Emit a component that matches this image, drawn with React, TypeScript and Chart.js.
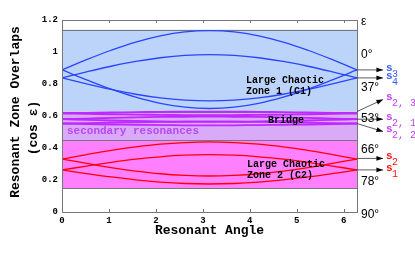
import React, { useEffect, useRef } from "react";
import { Chart, registerables } from "chart.js";

Chart.register(...registerables);

const TWO_PI = 6.283185;
// sample angles (k*pi/6)
const angles = [0, 0.5236, 1.0472, 1.5708, 2.0944, 2.618, 3.1416, 3.6652, 4.1888, 4.7124, 5.236, 5.7596, 6.2832];

// zone bands (cos eps)
const bandC1 = [0.628, 1.14];
const bandBridge = [0.448, 0.628];
const bandC2 = [0.148, 0.448];

// large resonance separatrices
const s3Upper = [0.888, 0.952, 1.011, 1.062, 1.101, 1.126, 1.134, 1.126, 1.101, 1.062, 1.011, 0.952, 0.888];
const s3Lower = [0.888, 0.826, 0.768, 0.718, 0.679, 0.655, 0.647, 0.655, 0.679, 0.718, 0.768, 0.826, 0.888];
const s4Upper = [0.838, 0.876, 0.911, 0.941, 0.964, 0.979, 0.984, 0.979, 0.964, 0.941, 0.911, 0.876, 0.838];
const s4Lower = [0.838, 0.801, 0.766, 0.736, 0.713, 0.699, 0.694, 0.699, 0.713, 0.736, 0.766, 0.801, 0.838];
const s2Upper = [0.331, 0.359, 0.385, 0.407, 0.424, 0.434, 0.438, 0.434, 0.424, 0.407, 0.385, 0.359, 0.331];
const s2Lower = [0.331, 0.304, 0.278, 0.256, 0.239, 0.229, 0.225, 0.229, 0.239, 0.256, 0.278, 0.304, 0.331];
const s1Upper = [0.263, 0.287, 0.310, 0.330, 0.345, 0.355, 0.358, 0.355, 0.345, 0.330, 0.310, 0.287, 0.263];
const s1Lower = [0.263, 0.240, 0.219, 0.201, 0.187, 0.178, 0.175, 0.178, 0.187, 0.201, 0.219, 0.240, 0.263];
// secondary resonances
const s23Upper = [0.617, 0.620, 0.622, 0.624, 0.626, 0.627, 0.627, 0.627, 0.626, 0.624, 0.622, 0.620, 0.617];
const s23Lower = [0.617, 0.614, 0.611, 0.609, 0.607, 0.606, 0.606, 0.606, 0.607, 0.609, 0.611, 0.614, 0.617];
const s21Upper = [0.580, 0.584, 0.588, 0.591, 0.594, 0.595, 0.596, 0.595, 0.594, 0.591, 0.588, 0.584, 0.580];
const s21Lower = [0.580, 0.576, 0.572, 0.569, 0.566, 0.565, 0.564, 0.565, 0.566, 0.569, 0.572, 0.576, 0.580];
const s22Upper = [0.553, 0.556, 0.559, 0.561, 0.563, 0.564, 0.565, 0.564, 0.563, 0.561, 0.559, 0.556, 0.553];
const s22Lower = [0.553, 0.550, 0.547, 0.545, 0.543, 0.542, 0.541, 0.542, 0.543, 0.545, 0.547, 0.550, 0.553];

const xTicks = [0, 1, 2, 3, 4, 5, 6];
const yTicks = [0, 0.2, 0.4, 0.6, 0.8, 1, 1.2];
const epsDegrees = [0, 37, 53, 66, 78, 90];

// resonance labels at right: [centre value, label main, subscript, colour, arrow end dy]
const resLabels: [number, string, string, string, number][] = [
  [0.888, "s", "3", "#3a5cff", 0],
  [0.838, "s", "4", "#3a5cff", 0],
  [0.628, "s", "2, 3", "#c040f0", -12],
  [0.58, "s", "2, 1", "#c040f0", 0],
  [0.553, "s", "2, 2", "#c040f0", 8],
  [0.335, "s", "2", "#ff1010", 0],
  [0.263, "s", "1", "#ff1010", 0],
];

const BLUE = "#2a44ff";
const RED = "#ff0000";
const PURPLE = "#c028ff";
const MONO = "'Liberation Mono', 'DejaVu Sans Mono', monospace";
const SANS = "'Liberation Sans', Arial, sans-serif";

function series(vals: number[]) {
  return vals.map((v, i) => ({ x: angles[i], y: v }));
}

const overlay = {
  id: "overlay",
  beforeDatasetsDraw(chart: any) {
    const { ctx, chartArea: a, scales } = chart;
    const ys = scales.y;
    ctx.save();
    const bands: [number[], string][] = [
      [bandC1, "#bcd4fa"],
      [bandBridge, "#d9aaf8"],
      [bandC2, "#ff80ff"],
    ];
    for (const [b, c] of bands) {
      const top = ys.getPixelForValue(b[1]);
      const bot = ys.getPixelForValue(b[0]);
      ctx.fillStyle = c;
      ctx.fillRect(a.left, top, a.right - a.left, bot - top);
    }
    ctx.strokeStyle = "#777";
    ctx.lineWidth = 1;
    for (const v of [bandC1[1], bandC1[0], bandBridge[0], bandC2[0]]) {
      const y = Math.round(ys.getPixelForValue(v)) + 0.5;
      ctx.beginPath();
      ctx.moveTo(a.left, y);
      ctx.lineTo(a.right, y);
      ctx.stroke();
    }
    ctx.restore();
  },
  afterDatasetsDraw(chart: any) {
    const { ctx, chartArea: a, scales } = chart;
    const xs = scales.x;
    const ys = scales.y;
    ctx.save();
    // frame
    ctx.strokeStyle = "#777";
    ctx.lineWidth = 1;
    ctx.strokeRect(Math.round(a.left) + 0.5, Math.round(a.top) + 0.5, Math.round(a.right - a.left), Math.round(a.bottom - a.top));
    // inward ticks top & bottom
    for (const t of xTicks) {
      const x = Math.round(xs.getPixelForValue(t)) + 0.5;
      ctx.beginPath();
      ctx.moveTo(x, a.top);
      ctx.lineTo(x, a.top + 3);
      ctx.moveTo(x, a.bottom);
      ctx.lineTo(x, a.bottom - 3);
      ctx.stroke();
    }
    // inner texts
    ctx.fillStyle = "#000";
    ctx.textBaseline = "middle";
    ctx.textAlign = "left";
    ctx.font = `bold 10px ${MONO}`;
    ctx.fillText("Large Chaotic", 246, 80);
    ctx.fillText("Zone 1 (C1)", 246, 91);
    ctx.fillText("Large Chaotic", 247, 164);
    ctx.fillText("Zone 2 (C2)", 247, 175);
    ctx.textAlign = "center";
    ctx.fillText("Bridge", 286, 120);
    ctx.textAlign = "left";
    ctx.fillStyle = "#b848f0";
    ctx.font = `bold 11px ${MONO}`;
    ctx.fillText("secondary resonances", 67, 131);

    // axis titles
    ctx.fillStyle = "#000";
    ctx.font = `bold 13px ${MONO}`;
    ctx.textAlign = "center";
    ctx.fillText("Resonant Angle", (a.left + a.right) / 2, 231);
    ctx.save();
    ctx.translate(16, 112);
    ctx.rotate(-Math.PI / 2);
    ctx.fillText("Resonant Zone Overlaps", 0, 0);
    ctx.restore();
    ctx.save();
    ctx.translate(34, 128);
    ctx.rotate(-Math.PI / 2);
    ctx.fillText("(cos \u03b5)", 0, 0);
    ctx.restore();

    // right side epsilon labels
    ctx.font = `12px ${SANS}`;
    ctx.textAlign = "left";
    ctx.fillText("\u03b5", 361, ys.getPixelForValue(1.2) + 2);
    for (const d of epsDegrees) {
      const y = ys.getPixelForValue(Math.cos((d * Math.PI) / 180)) + 3;
      ctx.fillText(d + "\u00b0", 361, y);
    }

    // arrows and resonance labels
    for (const [v, main, sub, col, dy] of resLabels) {
      const y0 = ys.getPixelForValue(v);
      const x0 = a.right;
      const x1 = a.right + 26;
      const y1 = y0 + dy;
      ctx.strokeStyle = "#333";
      ctx.fillStyle = "#000";
      ctx.lineWidth = 0.8;
      ctx.beginPath();
      ctx.moveTo(x0, y0);
      ctx.lineTo(x1, y1);
      ctx.stroke();
      const ang = Math.atan2(y1 - y0, x1 - x0);
      ctx.beginPath();
      ctx.moveTo(x1, y1);
      ctx.lineTo(x1 - 7 * Math.cos(ang - 0.35), y1 - 7 * Math.sin(ang - 0.35));
      ctx.lineTo(x1 - 7 * Math.cos(ang + 0.35), y1 - 7 * Math.sin(ang + 0.35));
      ctx.closePath();
      ctx.fill();
      ctx.fillStyle = col;
      ctx.font = `bold 11px ${MONO}`;
      ctx.textAlign = "left";
      ctx.fillText(main, x1 + 3, y1 - 2);
      ctx.font = `10px ${MONO}`;
      ctx.fillText(sub, x1 + 9, y1 + 4);
    }
    ctx.restore();
  },
};

export default function App() {
  const ref = useRef<HTMLCanvasElement | null>(null);
  useEffect(() => {
    if (!ref.current) return;
    const mk = (vals: number[], color: string, w: number) => ({
      data: series(vals),
      borderColor: color,
      borderWidth: w,
      pointRadius: 0,
      fill: false,
      tension: 0.4,
    });
    const chart = new Chart(ref.current, {
      type: "line",
      data: {
        datasets: [
          mk(s23Upper, PURPLE, 1.8),
          mk(s23Lower, PURPLE, 1.8),
          mk(s21Upper, PURPLE, 1.8),
          mk(s21Lower, PURPLE, 1.8),
          mk(s22Upper, PURPLE, 1.8),
          mk(s22Lower, PURPLE, 1.8),
          mk(s3Upper, BLUE, 1.3),
          mk(s3Lower, BLUE, 1.3),
          mk(s4Upper, BLUE, 1.3),
          mk(s4Lower, BLUE, 1.3),
          mk(s2Upper, RED, 1.3),
          mk(s2Lower, RED, 1.3),
          mk(s1Upper, RED, 1.3),
          mk(s1Lower, RED, 1.3),
        ],
      },
      options: {
        animation: false,
        responsive: false,
        maintainAspectRatio: false,
        layout: { padding: { left: 0, right: 58, top: 20, bottom: 0 } },
        plugins: { legend: { display: false }, tooltip: { enabled: false } },
        scales: {
          x: {
            type: "linear",
            min: 0,
            max: TWO_PI,
            grid: { display: false, drawTicks: false },
            border: { display: false },
            afterBuildTicks: (s: any) => {
              s.ticks = xTicks.map((v) => ({ value: v }));
            },
            afterFit: (s: any) => {
              s.height = 51;
            },
            ticks: {
              color: "#000",
              padding: 3,
              maxRotation: 0,
              callback: (v: any) => String(v),
              font: { family: MONO, size: 9, weight: "bold" },
            },
          },
          y: {
            type: "linear",
            min: 0,
            max: 1.2,
            grid: { display: false, drawTicks: false },
            border: { display: false },
            afterBuildTicks: (s: any) => {
              s.ticks = yTicks.map((v) => ({ value: v }));
            },
            afterFit: (s: any) => {
              s.width = 62;
            },
            ticks: {
              color: "#000",
              padding: 4,
              callback: (v: any) => String(v),
              font: { family: MONO, size: 9, weight: "bold" },
            },
          },
        },
      },
      plugins: [overlay],
    } as any);
    return () => chart.destroy();
  }, []);
  return (
    <div style={{ position: "absolute", left: 0, top: 0, width: 415, height: 263, background: "#fff" }}>
      <canvas ref={ref} width={415} height={263} />
    </div>
  );
}
